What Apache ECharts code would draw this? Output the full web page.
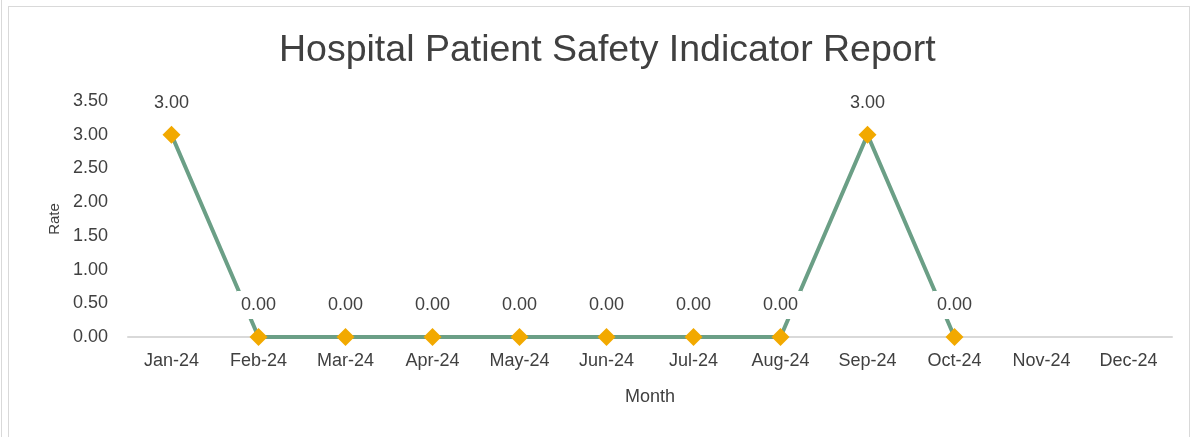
<!DOCTYPE html>
<html>
<head>
<meta charset="utf-8">
<script src="https://cdn.jsdelivr.net/npm/echarts@6/dist/echarts.min.js"></script>
<style>
    html, body { margin: 0; padding: 0; background: #fff; }
    body { width: 1197px; height: 437px; position: relative; overflow: hidden; }
    #edge { position: absolute; left: 1px; top: 0; width: 1px; height: 437px; background: #d9d9d9; }
    #frame { position: absolute; left: 8px; top: 6px; width: 1182px; height: 440px; border: 1px solid #d9d9d9; box-sizing: border-box; }
    #chart { position: absolute; left: 0; top: 0; width: 1197px; height: 437px; }
</style>
</head>
<body>
<div id="edge"></div>
<div id="frame"></div>
<div id="chart"></div>
<script>
const months = ['Jan-24', 'Feb-24', 'Mar-24', 'Apr-24', 'May-24', 'Jun-24',
    'Jul-24', 'Aug-24', 'Sep-24', 'Oct-24', 'Nov-24', 'Dec-24'];
const rates = [3, 0, 0, 0, 0, 0, 0, 0, 3, 0, null, null];
const rateTicks = [0, 0.5, 1, 1.5, 2, 2.5, 3, 3.5];

const font = '"Liberation Sans", Arial, sans-serif';

const chart = echarts.init(document.getElementById('chart'), null, { renderer: 'canvas' });

chart.setOption({
    backgroundColor: 'transparent',
    animation: false,
    title: {
        text: 'Hospital Patient Safety Indicator Report',
        left: 274,
        top: 27,
        textStyle: {
            fontFamily: font,
            fontSize: 37.5,
            fontWeight: 'normal',
            color: '#404040'
        }
    },
    grid: {
        left: 128,
        right: 25,
        top: 101,
        bottom: 100
    },
    xAxis: {
        type: 'category',
        data: months,
        boundaryGap: true,
        name: 'Month',
        nameLocation: 'middle',
        nameGap: 51,
        nameTextStyle: { fontFamily: font, fontSize: 18, color: '#404040' },
        axisLine: { lineStyle: { color: '#d9d9d9', width: 2 } },
        axisTick: { show: false },
        axisLabel: { fontFamily: font, fontSize: 18, color: '#404040', margin: 15 },
        splitLine: { show: false }
    },
    yAxis: {
        type: 'value',
        min: rateTicks[0],
        max: rateTicks[rateTicks.length - 1],
        interval: 0.5,
        name: 'Rate',
        nameLocation: 'middle',
        nameGap: 66,
        nameTextStyle: { fontFamily: font, fontSize: 15, color: '#404040' },
        axisLine: { show: false },
        axisTick: { show: false },
        splitLine: { show: false },
        axisLabel: {
            fontFamily: font,
            fontSize: 18,
            color: '#404040',
            margin: 20,
            formatter: function (v) { return v.toFixed(2); }
        }
    },
    series: [
        {
            name: 'Rate',
            type: 'line',
            data: rates,
            connectNulls: false,
            symbol: 'diamond',
            symbolSize: 18,
            lineStyle: { color: '#6b9f86', width: 4 },
            itemStyle: { color: '#f2a900' },
            label: {
                show: true,
                position: 'top',
                distance: 9,
                fontFamily: font,
                fontSize: 18,
                color: '#404040',
                backgroundColor: '#ffffff',
                padding: [5, 4],
                formatter: function (p) { return p.value == null ? '' : p.value.toFixed(2); }
            }
        }
    ]
});
</script>
</body>
</html>
